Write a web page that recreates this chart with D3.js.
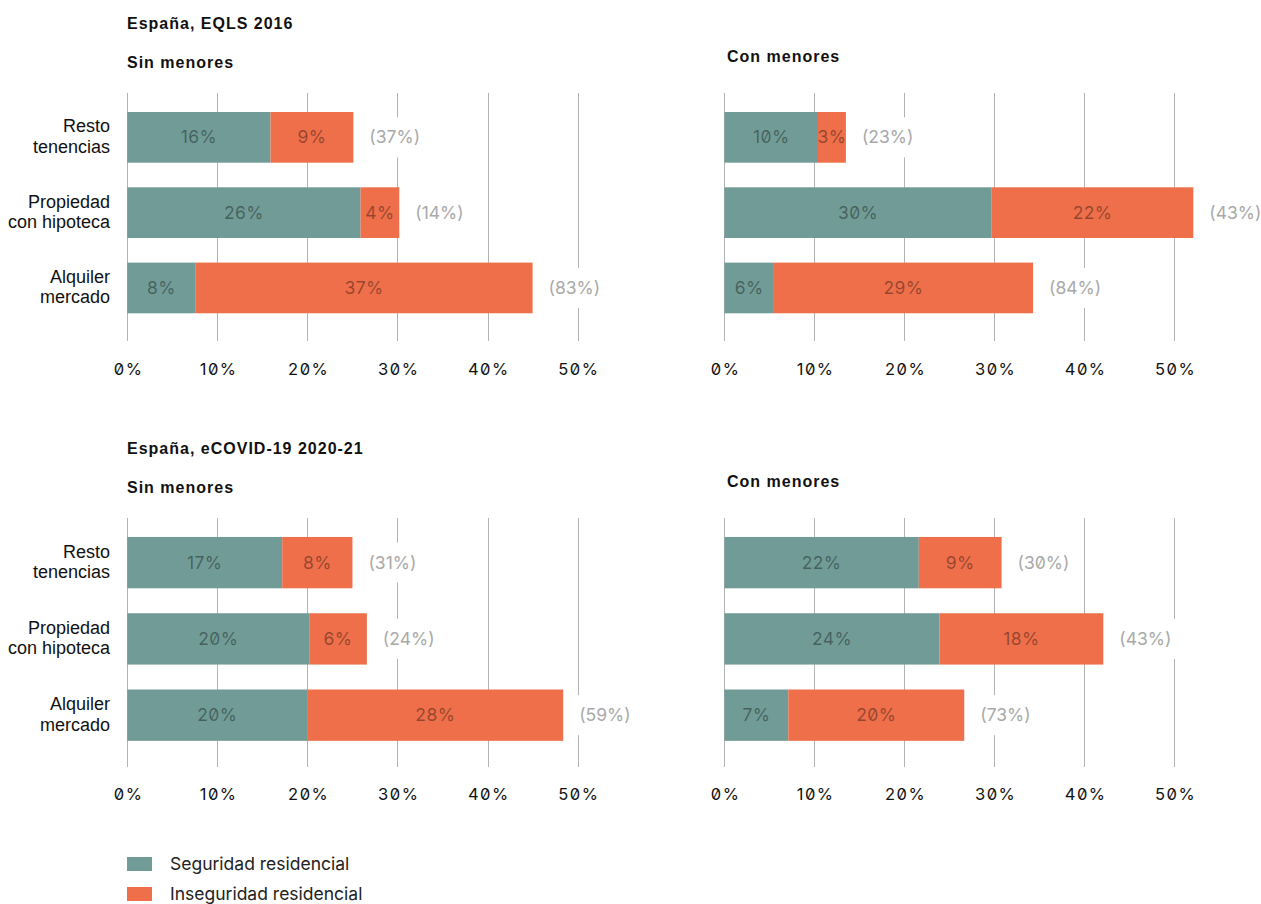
<!DOCTYPE html>
<html>
<head>
<meta charset="utf-8">
<script src="https://cdn.jsdelivr.net/npm/d3@7"></script>
<style>
  html, body { margin: 0; padding: 0; background: #fff; }
  svg { display: block; }
  .num { font-family: Inter, "Noto Sans", sans-serif; font-feature-settings: "zero" 1; }
  .head { font-family: "Liberation Sans", Arial, sans-serif; font-weight: bold; letter-spacing: 1px; fill: #111; }
  .cat { font-family: "Liberation Sans", Arial, sans-serif; fill: #111; }
  .leg { font-family: Inter, "Noto Sans", sans-serif; fill: #222; }
</style>
</head>
<body>
<svg id="chart" width="1261" height="904"></svg>
<script>
// ---------- DATA ----------
const categories = [["Resto", "tenencias"], ["Propiedad", "con hipoteca"], ["Alquiler", "mercado"]];
const seriesNames = ["Seguridad residencial", "Inseguridad residencial"];
const blockTitles = ["España, EQLS 2016", "España, eCOVID-19 2020-21"];
const panelTitles = ["Sin menores", "Con menores"];
const tickValues = [0, 10, 20, 30, 40, 50];

// EQLS 2016 – Sin menores
const eqlsSinSeg   = [15.9, 25.9, 7.6];
const eqlsSinInseg = [9.2, 4.3, 37.4];
const eqlsSinShare = [37, 14, 83];
// EQLS 2016 – Con menores
const eqlsConSeg   = [10.4, 29.7, 5.5];
const eqlsConInseg = [3.1, 22.4, 28.8];
const eqlsConShare = [23, 43, 84];
// eCOVID-19 – Sin menores
const covSinSeg   = [17.2, 20.2, 20.0];
const covSinInseg = [7.8, 6.4, 28.4];
const covSinShare = [31, 24, 59];
// eCOVID-19 – Con menores
const covConSeg   = [21.6, 23.9, 7.1];
const covConInseg = [9.2, 18.2, 19.55];
const covConShare = [30, 43, 73];

// ---------- STYLE ----------
const colSeg = "#719b96", colInseg = "#ee6f4a";
const svg = d3.select("#chart");

const panels = [
  {seg: eqlsSinSeg, inseg: eqlsSinInseg, share: eqlsSinShare, xr: [127.3, 577.6], yr: [93.2, 332.1], grid: [93, 341], tickY: 369, cats: true},
  {seg: eqlsConSeg, inseg: eqlsConInseg, share: eqlsConShare, xr: [724.4, 1174.4], yr: [93.2, 332.1], grid: [93, 341], tickY: 369, cats: false},
  {seg: covSinSeg, inseg: covSinInseg, share: covSinShare, xr: [127.3, 577.6], yr: [517.9, 759.9], grid: [518, 767], tickY: 794, cats: true},
  {seg: covConSeg, inseg: covConInseg, share: covConShare, xr: [724.4, 1174.4], yr: [517.9, 759.9], grid: [518, 767], tickY: 794, cats: false}
];

// headings
[0, 425].forEach((off, bi) => {
  svg.append("text").attr("class", "head").attr("x", 127).attr("y", 29.3 + off)
    .attr("font-size", 16).text(blockTitles[bi]);
  svg.append("text").attr("class", "head").attr("x", 127).attr("y", 68.3 + off)
    .attr("font-size", 16).text(panelTitles[0]);
  svg.append("text").attr("class", "head").attr("x", 727).attr("y", 62.3 + off)
    .attr("font-size", 16).text(panelTitles[1]);
});

panels.forEach(p => {
  const g = svg.append("g");
  const x = d3.scaleLinear().domain([0, 50]).range(p.xr);
  const y = d3.scaleBand().domain(d3.range(categories.length)).range(p.yr)
    .paddingInner(0.327).paddingOuter(0.25);

  // gridlines
  g.append("g").selectAll("line").data(tickValues).join("line")
    .attr("x1", d => Math.round(x(d)) + 0.5).attr("x2", d => Math.round(x(d)) + 0.5)
    .attr("y1", p.grid[0]).attr("y2", p.grid[1])
    .attr("stroke", "#b3b3b3").attr("stroke-width", 1);

  // tick labels via axis
  const axis = d3.axisBottom(x).tickValues(tickValues).tickSize(0).tickPadding(0)
    .tickFormat(d => d + "%");
  const ax = g.append("g").attr("transform", `translate(0,${p.tickY})`).call(axis);
  ax.select(".domain").remove();
  ax.selectAll("text").attr("class", "num").attr("dy", "0.35em").attr("y", 0)
    .attr("font-size", 16.5).attr("letter-spacing", "1.5px")
    .attr("dx", "0.75px").attr("fill", "#111");
  ax.attr("font-family", null).attr("font-size", null);

  const rows = categories.map((c, i) => ({i, seg: p.seg[i], inseg: p.inseg[i], share: p.share[i]}));

  // bars
  g.append("g").selectAll("rect").data(rows).join("rect")
    .attr("x", d => x(0)).attr("width", d => x(d.seg) - x(0))
    .attr("y", d => y(d.i)).attr("height", y.bandwidth()).attr("fill", colSeg);
  g.append("g").selectAll("rect").data(rows).join("rect")
    .attr("x", d => x(d.seg)).attr("width", d => x(d.seg + d.inseg) - x(d.seg))
    .attr("y", d => y(d.i)).attr("height", y.bandwidth()).attr("fill", colInseg);

  // in-bar labels
  const lab = g.append("g").attr("class", "num").attr("font-size", 17.5).attr("letter-spacing", "0.4px")
    .attr("fill", "#000").attr("fill-opacity", 0.38).attr("text-anchor", "middle");
  lab.selectAll("text.s").data(rows).join("text").attr("class", "s")
    .attr("x", d => (x(0) + x(d.seg)) / 2).attr("y", d => y(d.i) + y.bandwidth() / 2).attr("dy", "0.35em")
    .text(d => Math.round(d.seg) + "%");
  lab.selectAll("text.i").data(rows).join("text").attr("class", "i")
    .attr("x", d => (x(d.seg) + x(d.seg + d.inseg)) / 2).attr("y", d => y(d.i) + y.bandwidth() / 2).attr("dy", "0.35em")
    .text(d => Math.round(d.inseg) + "%");

  // share labels with white background
  const sh = g.append("g").selectAll("g").data(rows).join("g")
    .attr("transform", d => `translate(${x(d.seg + d.inseg) + 16},${y(d.i) + y.bandwidth() / 2})`);
  sh.append("rect").attr("fill", "#fff");
  const st = sh.append("text").attr("class", "num").attr("font-size", 17.5)
    .attr("fill", "#a9a9a9").attr("dy", "0.35em").text(d => "(" + d.share + "%)");
  st.each(function() {
    const b = this.getBBox();
    d3.select(this.previousSibling).attr("x", b.x - 5).attr("y", -20).attr("width", b.width + 10).attr("height", 40);
  });

  // category labels
  if (p.cats) {
    const ct = g.append("g").selectAll("text").data(rows).join("text").attr("class", "cat")
      .attr("font-size", 18).attr("text-anchor", "end");
    ct.each(function(d) {
      const c = y(d.i) + y.bandwidth() / 2;
      d3.select(this).selectAll("tspan").data(categories[d.i]).join("tspan")
        .attr("x", 110).attr("y", (t, k) => c + (k === 0 ? -5 : 15.5))
        .text(t => t);
    });
  }
});

// legend
const leg = svg.append("g");
seriesNames.forEach((n, i) => {
  leg.append("rect").attr("x", 127).attr("y", 857 + i * 30).attr("width", 25).attr("height", 14)
    .attr("fill", i === 0 ? colSeg : colInseg);
  leg.append("text").attr("class", "leg").attr("x", 170).attr("y", 864 + i * 30).attr("dy", "0.35em")
    .attr("font-size", 17.5).text(n);
});
</script>
</body>
</html>
